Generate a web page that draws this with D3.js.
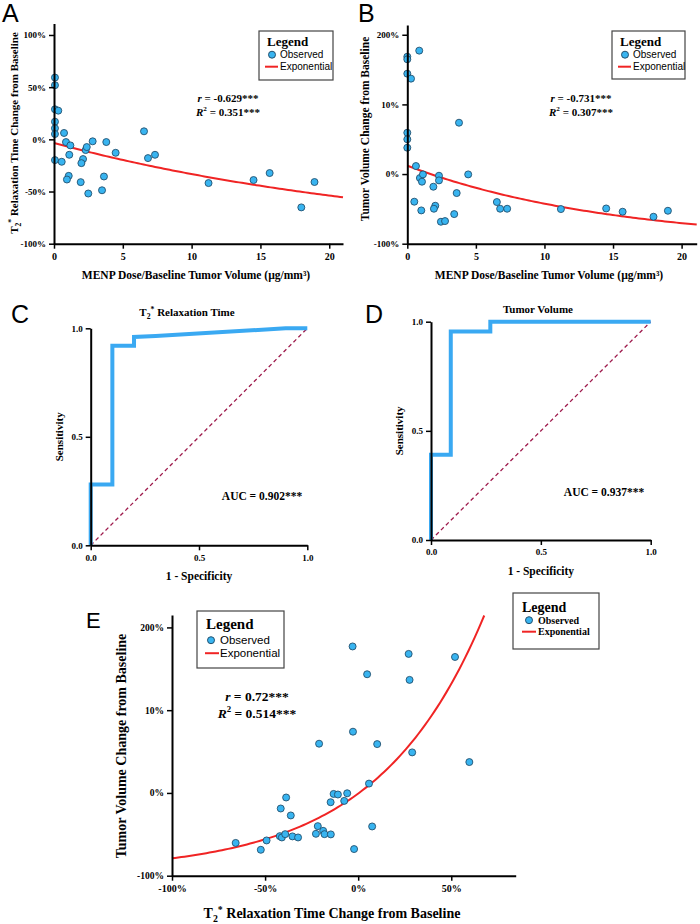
<!doctype html>
<html>
<head>
<meta charset="utf-8" />
<script src="https://d3js.org/d3.v7.min.js"></script>
<style>
  body { margin: 0; background: #fff; }
  .serif { font-family: "Liberation Serif", "Times New Roman", serif; font-weight: bold; }
  .sans { font-family: "Liberation Sans", Arial, sans-serif; }
</style>
</head>
<body>
<div id="fig"></div>
<script>

// A: MENP dose / baseline tumor volume vs T2* change (%)
var aDose = [0.07,0.07,0.07,0.31,0.07,0.07,0.07,0.07,0.73,0.87,1.19,0.56,1.11,1.07,0.94,1.94,2.11,1.99,2.30,2.38,2.81,2.49,3.63,3.49,3.80,4.48,6.54,6.83,7.34,11.23,14.50,15.67,17.97,18.93];
var aT2 = [59.2,51.9,28.8,27.5,16.9,10.6,5.1,-19.9,6.1,-2.6,-5.8,-21.5,-14.8,-35.0,-38.5,-41.0,-18.9,-22.8,-10.3,-7.4,-1.9,-51.9,-35.6,-48.8,-2.6,-12.9,7.7,-18.0,-14.8,-41.9,-39.0,-32.3,-65.2,-40.9];
var aFit = {a: 0.965, b: -0.0369};

// B: dose vs tumor volume change (axis units as printed)
var bDose = [0,0,0.87,0,0.27,0,0,0,3.77,0.63,0.92,1.14,1.07,1.90,2.31,2.31,0.51,1.02,2.04,1.94,3.60,2.45,2.75,3.42,4.44,6.53,6.77,7.28,11.2,14.5,15.7,17.95,19.0];
var bVol = [168.5,164.8,177.2,144.1,137.0,59.3,49.9,37.8,73.7,11.5,-5.7,-0.5,-11.0,-18.2,-2.4,-9.1,-39.7,-52.2,-45.5,-49.8,-27.3,-68.5,-67.5,-57.5,-0.5,-40.2,-49.8,-49.8,-50.3,-49.4,-54.1,-61.3,-52.7];
var bFit = {a: 1.12, b: -0.0667};

// C / D: ROC curves
var cFpr = [0,0,0.1,0.1,0.2,0.2,0.3,0.9,1];
var cTpr = [0,0.28,0.28,0.92,0.92,0.96,0.965,1,1];
var dFpr = [0,0,0.09,0.09,0.27,0.27,1];
var dTpr = [0,0.39,0.39,0.955,0.955,1,1];

// E: T2* change vs tumor volume change
var eT2 = [-65.8,-52.3,-49.2,-41.6,-38.7,-36.2,-42.1,-41.0,-39.2,-35.3,-32.3,-22.7,-21.7,-18.8,-18.1,-14.7,-14.8,-13.2,-10.9,-7.5,-5.9,-2.2,5.8,7.5,-3.0,27.1,52.0,4.8,27.6,-2.8,10.2,29.0,59.7,-21.0];
var eVol = [-60.4,-68.7,-57.4,-18.8,-5.5,-27.2,-52.2,-53.8,-49.8,-52.5,-53.8,-49.4,-40.1,-45.8,-49.8,-50.1,-11.2,-1.2,-1.9,-9.6,-0.4,-67.8,11.3,-40.5,177,168,164.3,143.4,136.6,74,59,49,37.3,59.5];
var eFit = {a: 94.77, b: 0.0175, c: -95.5, end: 67.7};

// tick labels
var pctTicks = [-100,-50,0,50,100];
var pctLabels = ["-100%","-50%","0%","50%","100%"];
var volTicks = [-100,0,100,200];
var volLabels = ["-100%","0%","10%","200%"];
var doseTicks = [0,5,10,15,20];
var rocTicks = [0,0.5,1];
var rocLabels = ["0.0","0.5","1.0"];
var eXTicks = [-100,-50,0,50];
var eXLabels = ["-100%","-50%","0%","50%"];

var dotFill = "#38b4f0", dotStroke = "#23506e", fitRed = "#f02424", rocBlue = "#3aa9f2", diagCol = "#9e1a4c";

var svg = d3.select("#fig").append("svg").attr("width", 700).attr("height", 924);

function panelLetter(t, x, y, fs) {
  svg.append("text").attr("class", "sans").attr("x", x).attr("y", y)
    .style("font-size", fs + "px").text(t);
}

function yAxis(scale, x, ticks, labels, fs) {
  var g = svg.append("g").attr("transform", "translate(" + x + ",0)")
    .call(d3.axisLeft(scale).tickValues(ticks).tickSize(5).tickSizeOuter(0).tickPadding(3)
      .tickFormat(function(d, i) { return labels[i]; }));
  g.select(".domain").attr("stroke-width", 2);
  g.selectAll(".tick line").attr("stroke-width", 1.5);
  g.selectAll("text").attr("class", "serif").style("font-size", fs + "px");
  return g;
}
function xAxis(scale, y, ticks, labels, fs) {
  var g = svg.append("g").attr("transform", "translate(0," + y + ")")
    .call(d3.axisBottom(scale).tickValues(ticks).tickSize(5).tickSizeOuter(0).tickPadding(4)
      .tickFormat(function(d, i) { return labels[i]; }));
  g.select(".domain").attr("stroke-width", 2);
  g.selectAll(".tick line").attr("stroke-width", 1.5);
  g.selectAll("text").attr("class", "serif").style("font-size", fs + "px");
  return g;
}

// T2* text helper
function t2Text(sel, rest, fs) {
  sel.append("tspan").text("T");
  sel.append("tspan").attr("dy", fs * 0.25).style("font-size", (fs * 0.7) + "px").text("2");
  sel.append("tspan").attr("dy", -fs * 0.6).style("font-size", (fs * 0.7) + "px").text("*");
  sel.append("tspan").attr("dy", fs * 0.35).text(rest);
}

function stats(x, y, rTxt, r2Txt, fs) {
  var t = svg.append("text").attr("class", "serif").attr("x", x).attr("y", y)
    .attr("text-anchor", "middle").style("font-size", fs + "px");
  t.append("tspan").style("font-style", "italic").text("r");
  t.append("tspan").text(" = " + rTxt);
  var t2 = svg.append("text").attr("class", "serif").attr("x", x).attr("y", y + fs * 1.25)
    .attr("text-anchor", "middle").style("font-size", fs + "px");
  t2.append("tspan").style("font-style", "italic").text("R");
  t2.append("tspan").attr("dy", -fs * 0.4).style("font-size", (fs * 0.65) + "px").text("2");
  t2.append("tspan").attr("dy", fs * 0.4).text(" = " + r2Txt);
}

function legend(x, y, w, h, o) {
  svg.append("rect").attr("x", x).attr("y", y).attr("width", w).attr("height", h)
    .attr("fill", "#fff").attr("stroke", "#444").attr("stroke-width", 1.2);
  svg.append("text").attr("class", "serif").attr("x", x + o.lx).attr("y", y + o.ly)
    .style("font-size", o.lfs + "px").text("Legend");
  svg.append("circle").attr("cx", x + o.cx).attr("cy", y + o.oy - o.ifs * 0.33).attr("r", 3.5)
    .attr("fill", dotFill).attr("stroke", dotStroke).attr("stroke-width", 1);
  svg.append("text").attr("class", o.cls).attr("x", x + o.tx).attr("y", y + o.oy)
    .style("font-size", o.ifs + "px").text("Observed");
  svg.append("line").attr("x1", x + o.l1).attr("x2", x + o.l2)
    .attr("y1", y + o.ey - o.ifs * 0.33).attr("y2", y + o.ey - o.ifs * 0.33)
    .attr("stroke", fitRed).attr("stroke-width", 2);
  svg.append("text").attr("class", o.cls).attr("x", x + o.tx).attr("y", y + o.ey)
    .style("font-size", o.ifs + "px").text("Exponential");
}

function dots(xs, ys, xArr, yArr) {
  svg.append("g").selectAll("circle").data(xArr).enter().append("circle")
    .attr("cx", function(d) { return xs(d); })
    .attr("cy", function(d, i) { return ys(yArr[i]); })
    .attr("r", 3.5).attr("fill", dotFill).attr("stroke", dotStroke).attr("stroke-width", 0.9);
}

function curve(xs, ys, f, x0, x1) {
  var pts = d3.range(0, 101).map(function(i) { var v = x0 + (x1 - x0) * i / 100; return [v, f(v)]; });
  svg.append("path").datum(pts)
    .attr("d", d3.line().x(function(d) { return xs(d[0]); }).y(function(d) { return ys(d[1]); }))
    .attr("fill", "none").attr("stroke", fitRed).attr("stroke-width", 2);
}

// ---------- Panel A ----------
var xA = d3.scaleLinear().domain([0, 21]).range([54, 343]);
var yA = d3.scaleLinear().domain([-100, 111]).range([243.7, 23.5]);
panelLetter("A", 2, 22, 25);
curve(xA, yA, function(v) { return (aFit.a * Math.exp(aFit.b * v) - 1) * 100; }, 0, 21);
dots(xA, yA, aDose, aT2);
yAxis(yA, 54, pctTicks, pctLabels, 9);
xAxis(xA, 243.7, doseTicks, doseTicks, 10);
legend(259, 31, 74, 49, {lx: 8, ly: 15, lfs: 13, cx: 13, tx: 21, oy: 27, ifs: 10, cls: "sans", l1: 6, l2: 19, ey: 39});
stats(228, 102, "-0.629***", "0.351***", 11);
var tA = svg.append("text").attr("class", "serif").attr("transform", "translate(18,133) rotate(-90)")
  .attr("text-anchor", "middle").style("font-size", "11px");
t2Text(tA, " Relaxation Time Change from Baseline", 11);
svg.append("text").attr("class", "serif").attr("x", 196).attr("y", 279).attr("text-anchor", "middle")
  .style("font-size", "11.5px").text("MENP Dose/Baseline Tumor Volume (µg/mm³)");

// ---------- Panel B ----------
var xB = d3.scaleLinear().domain([0, 21.1]).range([407.3, 696.7]);
var yB = d3.scaleLinear().domain([-100, 214]).range([243.7, 25]);
panelLetter("B", 358, 22, 25);
curve(xB, yB, function(v) { return (bFit.a * Math.exp(bFit.b * v) - 1) * 100; }, 0, 21.1);
dots(xB, yB, bDose, bVol);
yAxis(yB, 407.3, volTicks, volLabels, 9);
xAxis(xB, 243.7, doseTicks, doseTicks, 10);
legend(612, 31, 73, 48, {lx: 8, ly: 15, lfs: 13, cx: 13, tx: 21, oy: 27, ifs: 10, cls: "sans", l1: 6, l2: 19, ey: 39});
stats(581, 102, "-0.731***", "0.307***", 11);
svg.append("text").attr("class", "serif").attr("transform", "translate(369,129) rotate(-90)")
  .attr("text-anchor", "middle").style("font-size", "11.5px").text("Tumor Volume Change from Baseline");
svg.append("text").attr("class", "serif").attr("x", 549).attr("y", 279).attr("text-anchor", "middle")
  .style("font-size", "11.5px").text("MENP Dose/Baseline Tumor Volume (µg/mm³)");

// ---------- ROC panels ----------
function roc(letter, lx, ly, xs, ys, fpr, tpr, title, titleX, titleY, aucTxt, aucX, aucY, sensX, specY) {
  panelLetter(letter, lx, ly, 25);
  svg.append("line").attr("x1", xs(0)).attr("y1", ys(0)).attr("x2", xs(1)).attr("y2", ys(1))
    .attr("stroke", diagCol).attr("stroke-width", 1.3).attr("stroke-dasharray", "4,3");
  var pts = fpr.map(function(d, i) { return [d, tpr[i]]; });
  svg.append("path").datum(pts)
    .attr("d", d3.line().x(function(d) { return xs(d[0]); }).y(function(d) { return ys(d[1]); }))
    .attr("fill", "none").attr("stroke", rocBlue).attr("stroke-width", 4).attr("stroke-linejoin", "miter");
  yAxis(ys, xs(0), rocTicks, rocLabels, 9);
  xAxis(xs, ys(0), rocTicks, rocLabels, 9);
  var t = svg.append("text").attr("class", "serif").attr("x", titleX).attr("y", titleY)
    .attr("text-anchor", "middle").style("font-size", "11px");
  title(t);
  svg.append("text").attr("class", "serif").attr("x", aucX).attr("y", aucY).attr("text-anchor", "middle")
    .style("font-size", "11.5px").text(aucTxt);
  svg.append("text").attr("class", "serif").attr("transform", "translate(" + sensX + "," + ((ys(0) + ys(1)) / 2) + ") rotate(-90)")
    .attr("text-anchor", "middle").style("font-size", "11px").text("Sensitivity");
  svg.append("text").attr("class", "serif").attr("x", (xs(0) + xs(1)) / 2).attr("y", specY)
    .attr("text-anchor", "middle").style("font-size", "11.5px").text("1 - Specificity");
}

var xC = d3.scaleLinear().domain([0, 1]).range([90.7, 307.3]);
var yC = d3.scaleLinear().domain([0, 1]).range([545.3, 328.3]);
roc("C", 11, 323, xC, yC, cFpr, cTpr, function(t) { t2Text(t, " Relaxation Time", 11); },
  187, 316, "AUC = 0.902***", 262, 500, 63, 580);

var xD = d3.scaleLinear().domain([0, 1]).range([431, 650.7]);
var yD = d3.scaleLinear().domain([0, 1]).range([540, 321.7]);
roc("D", 365, 323, xD, yD, dFpr, dTpr, function(t) { t.text("Tumor Volume"); },
  538, 313, "AUC = 0.937***", 604, 496, 403, 575);

// ---------- Panel E ----------
var xE = d3.scaleLinear().domain([-100, 84.6]).range([172, 515.7]);
var yE = d3.scaleLinear().domain([-100, 215]).range([875.7, 615]);
panelLetter("E", 86, 628, 22);
curve(xE, yE, function(v) { return eFit.a * Math.exp(eFit.b * v) + eFit.c; }, -100, eFit.end);
dots(xE, yE, eT2, eVol);
yAxis(yE, 172, volTicks, volLabels, 9.5);
xAxis(xE, 875.7, eXTicks, eXLabels, 10);
legend(197, 611, 87, 57, {lx: 9, ly: 18, lfs: 15, cx: 14, tx: 23, oy: 33, ifs: 11.5, cls: "sans", l1: 8, l2: 22, ey: 46});
legend(513, 593, 86, 56, {lx: 9, ly: 19, lfs: 14, cx: 16, tx: 25, oy: 30.5, ifs: 10, cls: "serif", l1: 9, l2: 23, ey: 42});
stats(257, 701, "0.72***", "0.514***", 13.5);
svg.append("text").attr("class", "serif").attr("transform", "translate(126,746) rotate(-90)")
  .attr("text-anchor", "middle").style("font-size", "14px").text("Tumor Volume Change from Baseline");
var tE = svg.append("text").attr("class", "serif").attr("x", 332).attr("y", 918)
  .attr("text-anchor", "middle").style("font-size", "14px");
t2Text(tE, " Relaxation Time Change from Baseline", 14);

</script>
</body>
</html>
